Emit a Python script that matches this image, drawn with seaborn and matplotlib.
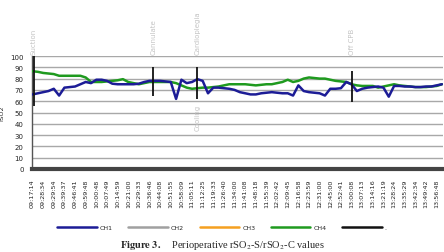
import numpy as np
import pandas as pd
import matplotlib
matplotlib.use("Agg")
import matplotlib.pyplot as plt
from matplotlib.lines import Line2D
import seaborn as sns

# ---------------- data ----------------
tick_labels = ["09:17:14", "09:28:34", "09:29:54", "09:39:37", "09:46:41", "09:59:48",
               "10:00:48", "10:07:49", "10:14:59", "10:21:00", "10:29:33", "10:36:46",
               "10:44:08", "10:51:55", "10:58:09", "11:05:11", "11:12:25", "11:19:33",
               "11:26:40", "11:34:00", "11:41:08", "11:48:18", "11:55:39", "12:02:42",
               "12:09:45", "12:16:58", "12:23:59", "12:31:00", "12:45:00", "12:52:41",
               "13:00:08", "13:07:13", "13:14:16", "13:21:19", "13:28:24", "13:35:29",
               "13:42:34", "13:49:42", "13:56:48"]

# two samples per tick label
ch1 = [66, 67, 68, 69, 71, 65, 72, 72.5, 73, 75, 77, 76, 79, 79, 78, 75.5, 75, 75, 75, 75,
       75.5, 77, 78, 78, 78, 77.5, 77, 62, 79, 76, 77, 79.5, 78, 67, 72, 72, 71.5, 71, 70, 68,
       67, 66, 66, 67, 67.5, 68, 67.5, 67, 67, 65, 74, 69, 68, 67.5, 67, 65, 71, 71, 71.5, 77,
       75, 69, 71, 72, 72.5, 73, 72, 64, 73.5, 73.5, 73, 73, 72.5, 72.5, 73, 73, 74, 75]
ch4 = [86.5, 86, 85, 84.5, 84, 82.5, 82.5, 82.5, 82.5, 82.5, 81, 77, 77, 77, 77.5, 78, 78.5,
       79.5, 77, 76, 75, 76, 77, 77, 77, 77, 77, 76, 74, 72, 71, 71.5, 72, 72, 72.5, 73, 74,
       75, 75, 75, 75, 74.5, 74, 74.5, 75, 75, 76, 77, 79, 77, 78, 80, 81, 80.5, 80, 80, 79,
       78, 77.5, 77, 75, 74, 73.5, 73.5, 73.5, 72, 73, 74, 75, 74, 73.5, 73, 72.5, 72.5, 72.5,
       73, 73.5, 75]

# events (black series): position in tick units, low/high values, label
event_pos = [0.1, 11.35, 15.5, 30.0]
event_low = [56, 65, 62, 59]
event_high = [100, 90, 90, 87]
event_text = ["Suction", "Cannulate", "Cardioplegia", "Off CPB"]
cooling_pos = 15.5
cooling_text = "Cooling"

legend_labels = ["CH1", "CH2", "CH3", "CH4", "."]
colors = {"CH1": "#1c1c96", "CH2": "#a0a0a0", "CH3": "#f5a020", "CH4": "#1f9a1f", ".": "#111111"}

# ---------------- build frame ----------------
t = np.arange(len(ch1)) * 0.5
df = pd.concat([
    pd.DataFrame({"t": t, "value": ch1, "channel": "CH1"}),
    pd.DataFrame({"t": t, "value": ch4, "channel": "CH4"}),
])

sns.set_style("white")
plt.rcParams["font.family"] = ["DejaVu Sans"]
plt.rcParams["mathtext.fontset"] = "stix"

fig = plt.figure(figsize=(4.44, 2.53), dpi=100)
ax = fig.add_axes([32 / 444, 1 - 170 / 253, 411 / 444, 113 / 253])

ax.set_ylim(0, 100)
ax.set_xlim(-0.05, 38.6)
ax.set_yticks(range(0, 101, 10))
for yv in range(10, 101, 10):
    ax.axhline(yv, color="#a8a8a8", lw=1.0, zorder=0)

sns.lineplot(data=df, x="t", y="value", hue="channel",
             palette={"CH1": colors["CH1"], "CH4": colors["CH4"]},
             hue_order=["CH4", "CH1"], lw=1.8, legend=False, ax=ax, zorder=3)

ax.vlines(event_pos, event_low, event_high, color="#111111", lw=1.3, zorder=4)

for p, txt in zip(event_pos, event_text):
    ax.text(p, 102, txt, rotation=90, ha="center", va="bottom", fontsize=5,
            color="#c4c4c4", clip_on=False)
ax.text(cooling_pos, 58, cooling_text, rotation=90, ha="center", va="top",
        fontsize=5, color="#c4c4c4")

ax.set_xticks(range(len(tick_labels)))
ax.set_xticklabels(tick_labels, rotation=90, fontsize=4.6, color="#222222")
ax.tick_params(axis="y", labelsize=5, colors="#222222", length=0, pad=6)
ax.tick_params(axis="x", length=0, pad=7)
ax.set_xlabel("")
ax.set_ylabel("rSO2", fontsize=4.5, labelpad=4)

for s in ["top", "right"]:
    ax.spines[s].set_visible(False)
ax.spines["left"].set_color("#555555")
ax.spines["left"].set_linewidth(1.0)
ax.spines["bottom"].set_color("#444444")
ax.spines["bottom"].set_linewidth(3.0)

handles = [Line2D([], [], color=colors[k], lw=1.8) for k in legend_labels]
fig.legend(handles, legend_labels, loc="center", bbox_to_anchor=(222 / 444, 1 - 228 / 253),
           ncol=5, frameon=False, fontsize=4.5, handlelength=6.3, columnspacing=2.5,
           handletextpad=0.5)

fig.text(0.5, 1 - 246 / 253, r"$\mathbf{Figure\ 3.}$    Perioperative rSO$_2$-S/rSO$_2$-C values",
         ha="center", va="center", fontsize=7.5, family="Liberation Serif")

fig.savefig("out.png", dpi=100)
